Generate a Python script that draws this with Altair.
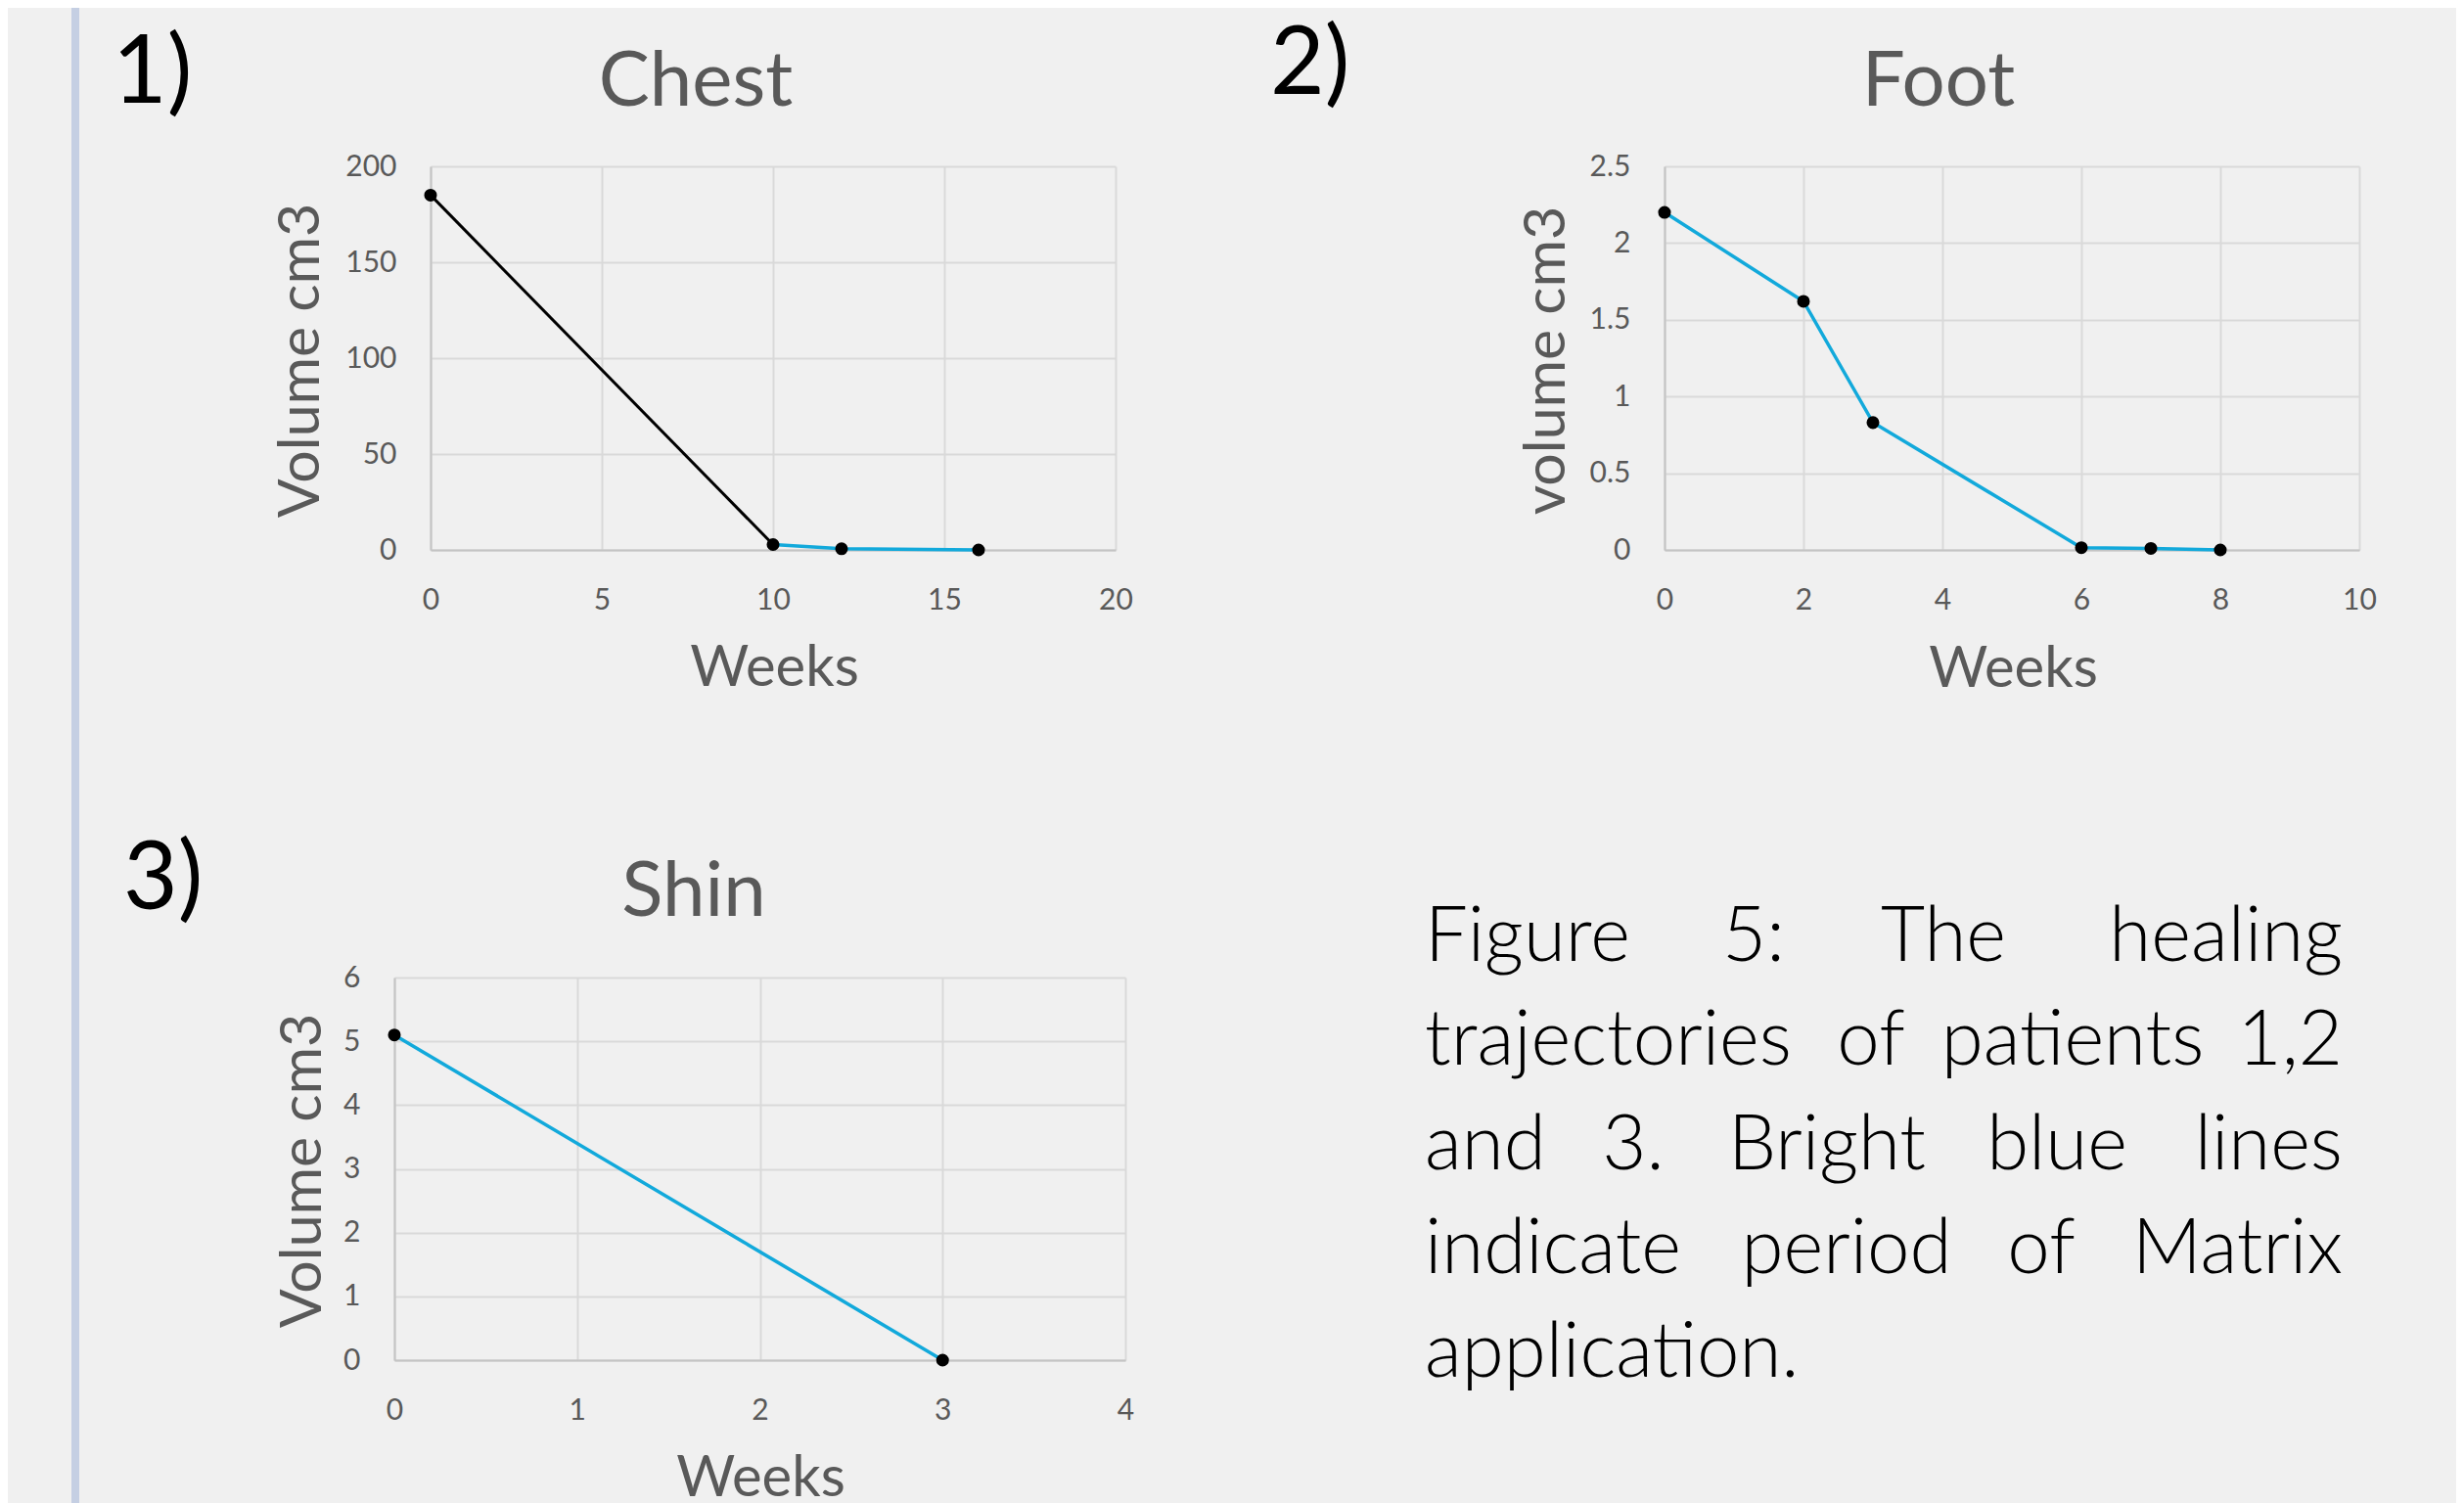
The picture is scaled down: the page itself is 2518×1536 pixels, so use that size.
import altair as alt
import pandas as pd

# ---------------- data ----------------
chest_weeks = [0, 10, 12, 16]
chest_volume = [185, 2.8, 0.6, 0]
chest_matrix_from = 10      # week where Matrix application starts

foot_weeks = [0, 2, 3, 6, 7, 8]
foot_volume = [2.2, 1.62, 0.83, 0.015, 0.01, 0]
foot_matrix_from = 0

shin_weeks = [0, 3]
shin_volume = [5.1, 0]
shin_matrix_from = 0

chest_x_ticks = [0, 5, 10, 15, 20]
chest_y_ticks = [0, 50, 100, 150, 200]
foot_x_ticks = [0, 2, 4, 6, 8, 10]
foot_y_ticks = [0, 0.5, 1, 1.5, 2, 2.5]
shin_x_ticks = [0, 1, 2, 3, 4]
shin_y_ticks = [0, 1, 2, 3, 4, 5, 6]

caption_lines = [
    "Figure 5: The healing",
    "trajectories of patients 1,2",
    "and 3. Bright blue lines",
    "indicate period of Matrix",
    "application.",
]

# ---------------- style / layout ----------------
BG = "#f0f0f0"
TXT = "#595959"
BLUE = "#12a9db"
BAR = "#c5cfe3"
FONT = "Lato"
GRID = "#d9d9d9"
DOMAIN = "#c4c4c4"

ONE = pd.DataFrame({"k": [0]})


def axis_x(ticks, tx, ty):
    return alt.Axis(values=ticks, title="Weeks", format="d", grid=True, gridColor=GRID, gridWidth=2,
                    domainColor=DOMAIN, domainWidth=2, ticks=False,
                    labelFont=FONT, labelFontSize=30, labelColor=TXT, labelPadding=36,
                    labelFlush=False, labelOverlap=False,
                    titleFont=FONT, titleFontSize=58, titleColor=TXT, titleFontWeight="normal",
                    titleX=tx, titleY=ty, titleAlign="center", titleBaseline="alphabetic",
                    titleAngle=0)


def axis_y(ticks, title, tx, ty, offset, fmt):
    return alt.Axis(values=ticks, title=title, format=fmt, grid=True, gridColor=GRID, gridWidth=2,
                    domainColor=DOMAIN, domainWidth=2, ticks=False,
                    labelFont=FONT, labelFontSize=30, labelColor=TXT, labelPadding=35,
                    labelFlush=False, labelOverlap=False,
                    titleFont=FONT, titleFontSize=59, titleColor=TXT, titleFontWeight="normal",
                    titleX=tx, titleY=ty, titleAlign="center", titleBaseline="alphabetic",
                    titleAngle=270, offset=offset)


def panel(weeks, volume, matrix_from, xdom, xticks, ydom, yticks, ytitle, title, label,
          width, height, xrange, yoff, xt, yt, tpos, lpos, fmt="d", extra=None):
    df = pd.DataFrame({"week": weeks, "volume": volume})
    xs = alt.Scale(domain=xdom, nice=False, zero=False, range=xrange)
    ys = alt.Scale(domain=ydom, nice=False, zero=False)
    X = alt.X("week:Q", scale=xs, axis=axis_x(xticks, xt[0], xt[1]))
    Y = alt.Y("volume:Q", scale=ys, axis=axis_y(yticks, ytitle, yt[0], yt[1], yoff, fmt))
    layers = []
    if extra is not None:
        layers.extend(extra)
    pre = df[df.week <= matrix_from]
    post = df[df.week >= matrix_from]
    if len(pre) > 1:
        layers.append(alt.Chart(pre).mark_line(color="black", strokeWidth=3).encode(x=X, y=Y))
    layers.append(alt.Chart(post).mark_line(color=BLUE, strokeWidth=3.5).encode(x=X, y=Y))
    layers.append(alt.Chart(df).mark_point(filled=True, color="black", size=170, opacity=1)
                  .encode(x="week:Q", y="volume:Q"))
    layers.append(alt.Chart(ONE).mark_text(text=title, font=FONT, fontSize=78, color=TXT,
                                           align="center", baseline="alphabetic")
                  .encode(x=alt.value(tpos[0]), y=alt.value(tpos[1])))
    layers.append(alt.Chart(ONE).mark_text(text=label, font=FONT, fontSize=96, color="black",
                                           align="left", baseline="alphabetic")
                  .encode(x=alt.value(lpos[0]), y=alt.value(lpos[1])))
    return alt.layer(*layers).properties(width=width, height=height)


# left decorative bar (page x 73-81) and a background-coloured filler reaching the right edge
bar = alt.Chart(ONE).mark_rect(color=BAR).encode(
    x=alt.value(-330), x2=alt.value(-322), y=alt.value(-162), y2=alt.value(1370))
filler = alt.Chart(ONE).mark_rect(color=BG).encode(
    x=alt.value(760), x2=alt.value(809), y=alt.value(-162), y2=alt.value(1300))

chest = panel(chest_weeks, chest_volume, chest_matrix_from, [0, 20], chest_x_ticks,
              [0, 200], chest_y_ticks, "Volume cm3", "Chest", "1)",
              737, 392, [37, 737], -37, (388, 138), (-115, 198), (308, -62), (-288, -65),
              extra=[bar])
foot = panel(foot_weeks, foot_volume, foot_matrix_from, [0, 10], foot_x_ticks,
             [0, 2.5], foot_y_ticks, "volume cm3", "Foot", "2)",
             710, 392, [0, 710], 0, (356, 139), (-103, 198), (280, -62), (-403, -74),
             fmt=".1~f", extra=[filler])
shin = panel(shin_weeks, shin_volume, shin_matrix_from, [0, 4], shin_x_ticks,
             [0, 6], shin_y_ticks, "Volume cm3", "Shin", "3)",
             747, 391, [0, 747], 0, (374, 138), (-76, 197), (306, -63), (-277, -70))

# caption (justified by hand: first word left, last word right, middle words centred)
cap_left, cap_right = -245, 693
cap_base, cap_step = -17, 106.3
mid_centres = [[91, 285], [211, 417], [-32, 166, 401], [186, 385], []]
rows_l, rows_c, rows_r = [], [], []
for i, line in enumerate(caption_lines):
    words = line.split(" ")
    yb = cap_base + i * cap_step
    rows_l.append({"w": words[0], "px": cap_left, "py": yb})
    if len(words) > 1:
        rows_r.append({"w": words[-1], "px": cap_right, "py": yb})
        for w, c in zip(words[1:-1], mid_centres[i]):
            rows_c.append({"w": w, "px": c, "py": yb})


def cap_layer(rows, align):
    return alt.Chart(pd.DataFrame(rows)).mark_text(
        font=FONT, fontSize=78, fontWeight=300, color="black", align=align,
        baseline="alphabetic").encode(
        x=alt.X("px:Q", scale=None), y=alt.Y("py:Q", scale=None), text="w:N")


caption = alt.layer(cap_layer(rows_l, "left"), cap_layer(rows_c, "center"),
                    cap_layer(rows_r, "right")).properties(width=710, height=391)

chart = alt.concat(chest, foot, shin, caption, columns=2,
                   spacing={"row": 437, "column": 551}, bounds="flush").properties(
    padding={"left": 65, "top": 0, "right": 0, "bottom": 0}
).configure(background=BG).configure_view(stroke=None)

chart.save("out.html", embed_options={"renderer": "svg", "actions": False})
